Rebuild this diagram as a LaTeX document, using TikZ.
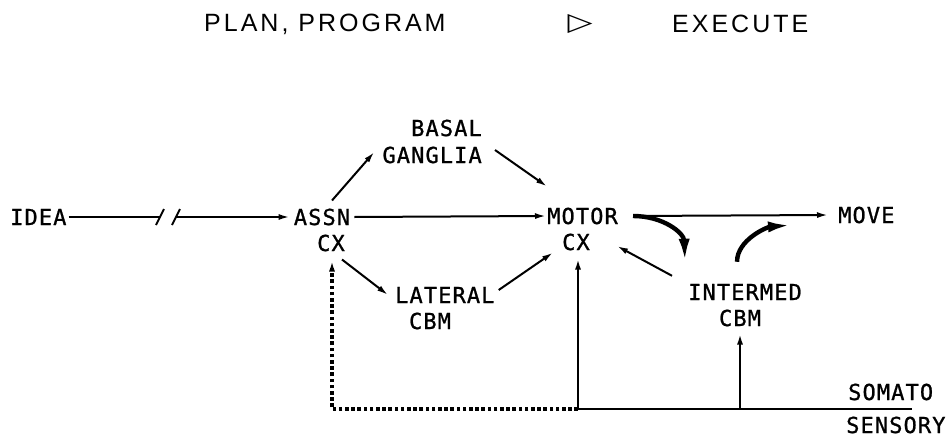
\documentclass[tikz,border=0pt]{standalone}
\usepackage{fontspec}
\usetikzlibrary{arrows.meta,calc}
\newfontfamily\lettering[LetterSpace=5,FakeBold=1]{DejaVu Sans Mono}
\newfontfamily\titlefont[LetterSpace=12]{Liberation Sans}
\newfontfamily\symbolfont{DejaVu Sans}
\begin{document}
\begin{tikzpicture}[x=1pt,y=-1pt,
  lbl/.style={inner sep=0pt, font=\lettering\fontsize{22}{26}\selectfont},
  ttl/.style={inner sep=0pt, font=\titlefont\fontsize{25}{30}\selectfont},
  plain/.style={line width=2pt},
  thin/.style={line width=2pt, -{Latex[length=11pt,width=6pt]}},
  heavy/.style={line width=4.4pt, -{Latex[length=24pt,width=11pt]}},
  bus/.style={line width=2.8pt},
  feed/.style={line width=2.6pt, -{Latex[length=11pt,width=6pt]}},
  dots/.style={line width=3.6pt, dash pattern=on 3.6pt off 2.6pt}]
\useasboundingbox (0,0) rectangle (951,439);

% heading
\node[ttl, anchor=west] (plan) at (204,24) {PLAN, PROGRAM};
\node[inner sep=0pt, font=\symbolfont\fontsize{25}{28}\selectfont] (tri) at (580,24) {\scalebox{1.3}[1]{▷}};
\node[ttl, anchor=west] (exec) at (672,24) {EXECUTE};

% labels
\node[lbl, anchor=west] (idea) at (10,217) {IDEA};
\node[lbl] (assn) at (322,217) {ASSN};
\node[lbl] (assncx) at (331,243) {CX};
\node[lbl, anchor=east] (basal) at (482,128) {BASAL};
\node[lbl, anchor=east] (ganglia) at (482,155) {GANGLIA};
\node[lbl, anchor=west] (motor) at (547,216) {MOTOR};
\node[lbl] (motorcx) at (576,242) {CX};
\node[lbl, anchor=west] (move) at (838,215) {MOVE};
\node[lbl, anchor=west] (lateral) at (395,295) {LATERAL};
\node[lbl] (latcbm) at (430,321) {CBM};
\node[lbl, anchor=west] (intermed) at (688,292) {INTERMED};
\node[lbl] (intcbm) at (740,318) {CBM};
\node[lbl, anchor=west] (somato) at (848,392) {SOMATO};
\node[lbl, anchor=west] (sensory) at (846,425) {SENSORY};

% break in the idea pathway
\coordinate (brkL) at (160,217);
\coordinate (brkR) at (176,217);
\draw[plain] ($(idea.east)+(2,0)$) -- (brkL);
\draw[plain] ($(brkL)+(-4,8)$) -- ($(brkL)+(4,-8)$);
\draw[plain] ($(brkR)+(-4,8)$) -- ($(brkR)+(4,-8)$);
\draw[thin] (brkR) -- ($(assn.west)+(-4,0)$);

% cortical / subcortical loop
\draw[thin] ($(assn.north)+(10,-8)$) -- ($(ganglia.west)+(-8,-3)$);
\draw[thin] ($(ganglia.east)+(13,-5)$) -- ($(motor.north west)+(0,-21)$);
\draw[thin] ($(assn.east)+(4,0)$) -- ($(motor.west)+(-1,0)$);
\draw[thin] ($(assncx.south east)+(-3,8)$) -- ($(lateral.west)+(-7,0)$);
\draw[thin] ($(lateral.east)+(4,-5)$) -- ($(motorcx.south west)+(-9,2)$);
\draw[thin] ($(motor.east)+(15,0)$) -- ($(move.west)+(-10,0)$);
\draw[thin] ($(intermed.north west)+(-16,-8)$) -- ($(motorcx.east)+(27,4)$);

% intermediate cerebellum side loop
\draw[heavy] ($(motor.east)+(15,0)$) .. controls +(30,0) and +(-1,-30) .. ($(intermed.north west)+(-3,-21)$);
\draw[heavy] ($(intermed.north)+(-8,-22)$) .. controls +(0,-22) and +(-25,2) .. (792,225);

% somatosensory input
\coordinate (jmotor) at (578,409);
\coordinate (jint) at (740,409);
\coordinate (jassn) at (332,409);
\coordinate (busend) at (912,409);
\draw[bus] (jmotor) -- (busend);
\draw[feed] (jmotor) -- ($(motorcx.south)+(2,8)$);
\draw[feed] (jint) -- ($(intcbm.south)+(0,7)$);
\draw[dots] (jmotor) -- (jassn) -- ($(assncx.south)+(1,16)$);
\draw[feed] ($(assncx.south)+(1,18)$) -- ($(assncx.south)+(1,9)$);
\end{tikzpicture}
\end{document}
